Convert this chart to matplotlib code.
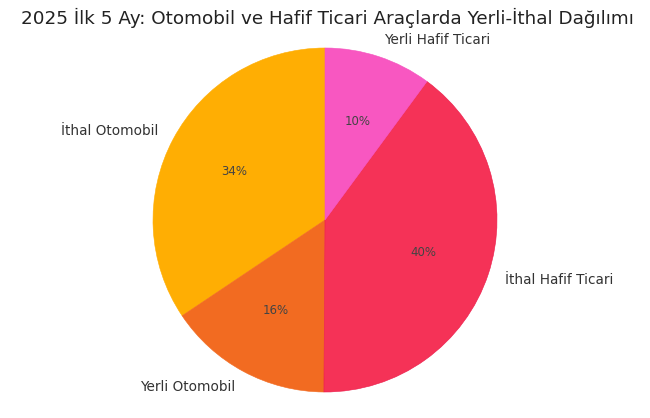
import matplotlib
matplotlib.use("Agg")
import matplotlib.pyplot as plt

title = "2025 İlk 5 Ay: Otomobil ve Hafif Ticari Araçlarda Yerli-İthal Dağılımı"
labels = ["İthal Otomobil", "Yerli Otomobil", "İthal Hafif Ticari", "Yerli Hafif Ticari"]
values = [34.4, 15.5, 40.0, 10.1]
colors = ["#FFAE03", "#F26B21", "#F53257", "#F857C1"]
edges = ["#FFAE03", "#F26B21", "#EC1848", "#F550BE"]

W, H = 650, 418
cx, cy, r = 325, 220, 172  # pixel centre & radius

fig = plt.figure(figsize=(W / 100, H / 100), dpi=100)
ax = fig.add_axes([0, 0, 1, 1])
wedges, texts, autotexts = ax.pie(
    values, labels=labels, colors=colors, startangle=90,
    autopct="%1.0f%%", pctdistance=0.6, labeldistance=1.1,
    textprops={"fontsize": 9.8, "color": "#333333"},
    wedgeprops={"linewidth": 0.4},
)
for w, e in zip(wedges, edges):
    w.set_edgecolor(e)
for t in autotexts:
    t.set_fontsize(8.5)
    t.set_color("#444444")
ax.set_aspect("equal")
ax.set_xlim(-cx / r, (W - cx) / r)
ax.set_ylim(-(H - cy) / r, cy / r)
ax.axis("off")
fig.text(0.503, 1 - 18 / H, title, ha="center", va="center", fontsize=13.2, color="#222222")
fig.savefig("out.png", dpi=100)
